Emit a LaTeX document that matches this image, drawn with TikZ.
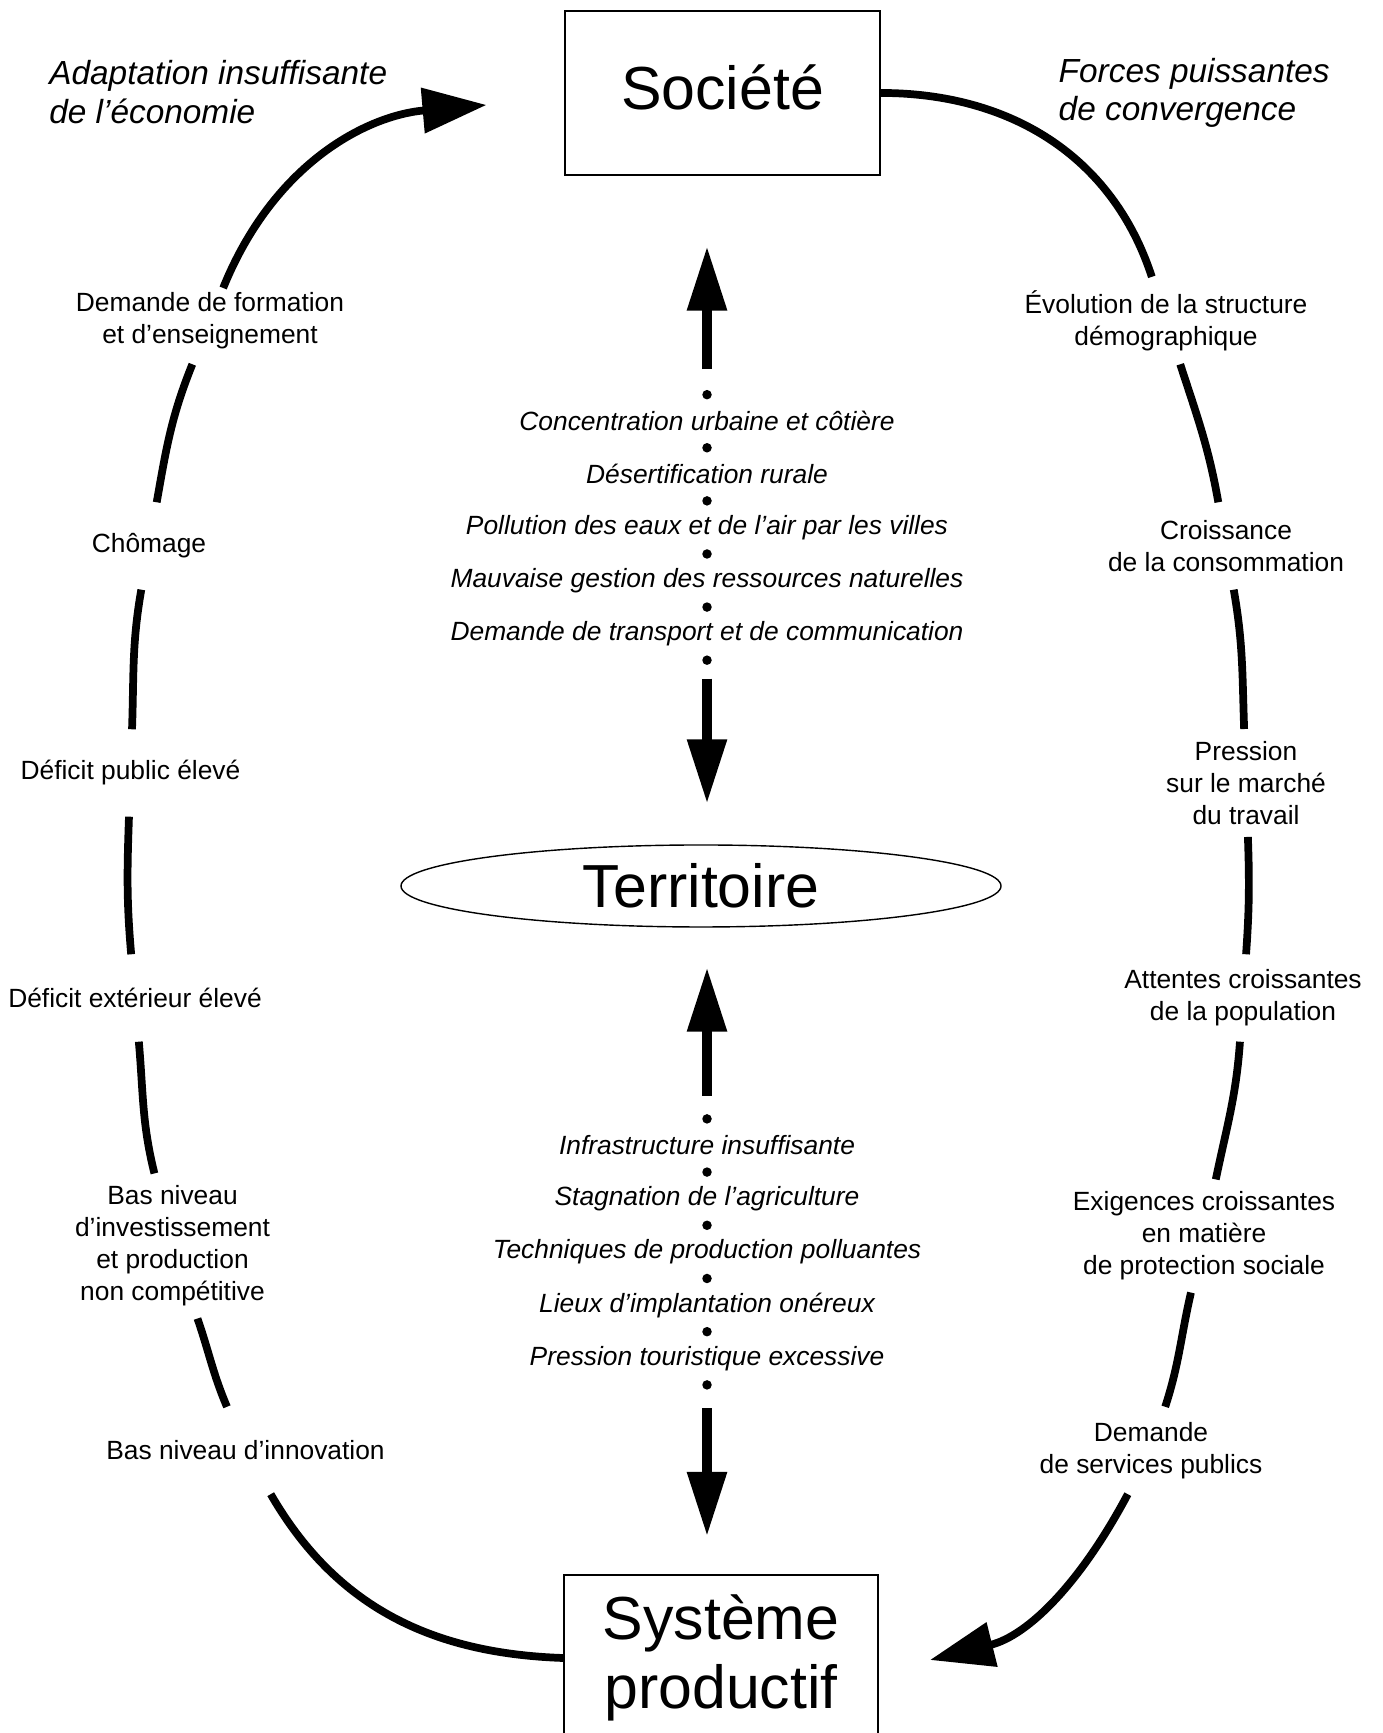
\documentclass[tikz,border=0pt]{standalone}
\usepackage{fontspec}
\setmainfont{Liberation Sans}
\usetikzlibrary{arrows.meta, shapes.geometric}

\begin{document}
\begin{tikzpicture}[
  boite/.style={draw, line width=0.6pt, font=\fontsize{17.3}{19.5}\selectfont, align=center, inner sep=0pt},
  lbl/.style={align=center, font=\fontsize{7.5}{9.1}\selectfont, inner ysep=3.3pt, inner xsep=2pt, minimum height=8.6mm},
  titre/.style={anchor=west, align=left, inner sep=0pt, font=\fontsize{9.5}{11}\selectfont\itshape},
  crit/.style={font=\fontsize{7.5}{9}\selectfont\itshape, inner sep=0pt},
  puce/.style={circle, fill, inner sep=0pt, minimum size=0.95mm},
  boucle/.style={line width=2.2pt},
  bouclefl/.style={boucle, -{Triangle[length=6.4mm,width=4.4mm]}},
  fleche/.style={line width=2.6pt, -{Triangle[length=6.4mm,width=3.8mm]}}
]
\useasboundingbox (0,0) rectangle (13.82,17.33);

% Poles
\node[boite, minimum width=3.15cm, minimum height=1.64cm, text depth=1.2mm] (soc) at (7.225,16.40) {Société};
\node[ellipse, draw, line width=0.4pt, minimum width=6cm, minimum height=0.82cm, inner sep=0pt, font=\fontsize{17.3}{19.5}\selectfont] (terr) at (7.01,8.47) {Territoire};
\node[boite, minimum width=3.14cm, minimum height=1.66cm] (sys) at (7.21,0.75) {Système\\productif};

% Titres
\node[titre] (adapt) at (0.486,16.41) {Adaptation insuffisante\\de l’économie};
\node[titre] (forces) at (10.58,16.40) {Forces puissantes\\de convergence};

% Etiquettes gauche
\node[lbl] (form) at (2.10,14.124) {Demande de formation\\et d’enseignement};
\node[lbl] (chom) at (1.49,11.87) {Chômage};
\node[lbl] (dpub) at (1.305,9.60) {Déficit public élevé};
\node[lbl] (dext) at (1.35,7.35) {Déficit extérieur élevé};
\node[lbl] (binv) at (1.725,4.87) {Bas niveau\\d’investissement\\et production\\non compétitive};
\node[lbl] (binn) at (2.455,2.825) {Bas niveau d’innovation};

% Etiquettes droite
\node[lbl] (evol) at (11.66,14.124) {Évolution de la structure\\démographique};
\node[lbl] (cons) at (12.26,11.87) {Croissance\\de la consommation};
\node[lbl] (pres) at (12.46,9.50) {Pression\\sur le marché\\du travail};
\node[lbl] (att) at (12.43,7.35) {Attentes croissantes\\de la population};
\node[lbl] (exig) at (12.04,4.97) {Exigences croissantes\\en matière\\de protection sociale};
\node[lbl] (serv) at (11.51,2.825) {Demande\\de services publics};

\coordinate (ltip) at (4.865,16.28);
\coordinate (rtip) at (9.30,0.73);

% Boucle gauche
\draw[boucle] (sys.west) to[out=178,in=-60] (binn);
\draw[boucle] (binn) to[out=113,in=-71] (binv);
\draw[boucle] (binv) to[out=104,in=-85] (dext);
\draw[boucle] (dext) to[out=95,in=-92] (dpub);
\draw[boucle] (dpub) to[out=88,in=-100] (chom);
\draw[boucle] (chom) to[out=80,in=-112] (form);
\draw[bouclefl, shorten <=-1.2mm] (form) to[out=68,in=185] (ltip);

% Boucle droite
\draw[boucle] (soc) to[out=0,in=108] (evol);
\draw[boucle] (evol) to[out=-72,in=100] (cons);
\draw[boucle] (cons) to[out=-80,in=92] (pres);
\draw[boucle] (pres) to[out=-88,in=86] (att);
\draw[boucle] (att) to[out=-94,in=78.5] (exig);
\draw[boucle] (exig) to[out=-103,in=72] (serv);
\draw[bouclefl] (serv) to[out=-118,in=14] (rtip);

% Colonne haute
\foreach \t [count=\i] in {Concentration urbaine et côtière, Désertification rurale, Pollution des eaux et de l’air par les villes, Mauvaise gestion des ressources naturelles, Demande de transport et de communication}
{
  \node[puce] (h\i) at (7.07,{13.383-0.531*(\i-1)}) {};
  \node[crit] (ht\i) at (7.07,{13.117-0.531*(\i-1)}) {\t};
}
\node[puce] (h6) at (7.07,10.728) {};

% Colonne basse
\foreach \t [count=\i] in {Infrastructure insuffisante, Stagnation de l’agriculture, Techniques de production polluantes, Lieux d’implantation onéreux, Pression touristique excessive}
{
  \node[puce] (b\i) at (7.07,{6.141-0.532*(\i-1)}) {};
  \node[crit] (bt\i) at (7.07,{5.875-0.532*(\i-1)}) {\t};
}
\node[puce] (b6) at (7.07,3.481) {};

% Fleches centrales
\draw[fleche, shorten <=2mm, shorten >=7.05mm] (h1) -- (h1 |- soc.south);
\draw[fleche, shorten <=1.3mm, shorten >=4.1mm] (h6) -- (h6 |- terr.north);
\draw[fleche, shorten <=1.75mm, shorten >=4mm] (b1) -- (b1 |- terr.south);
\draw[fleche, shorten <=1.8mm, shorten >=3.8mm] (b6) -- (b6 |- sys.north);

\end{tikzpicture}
\end{document}
